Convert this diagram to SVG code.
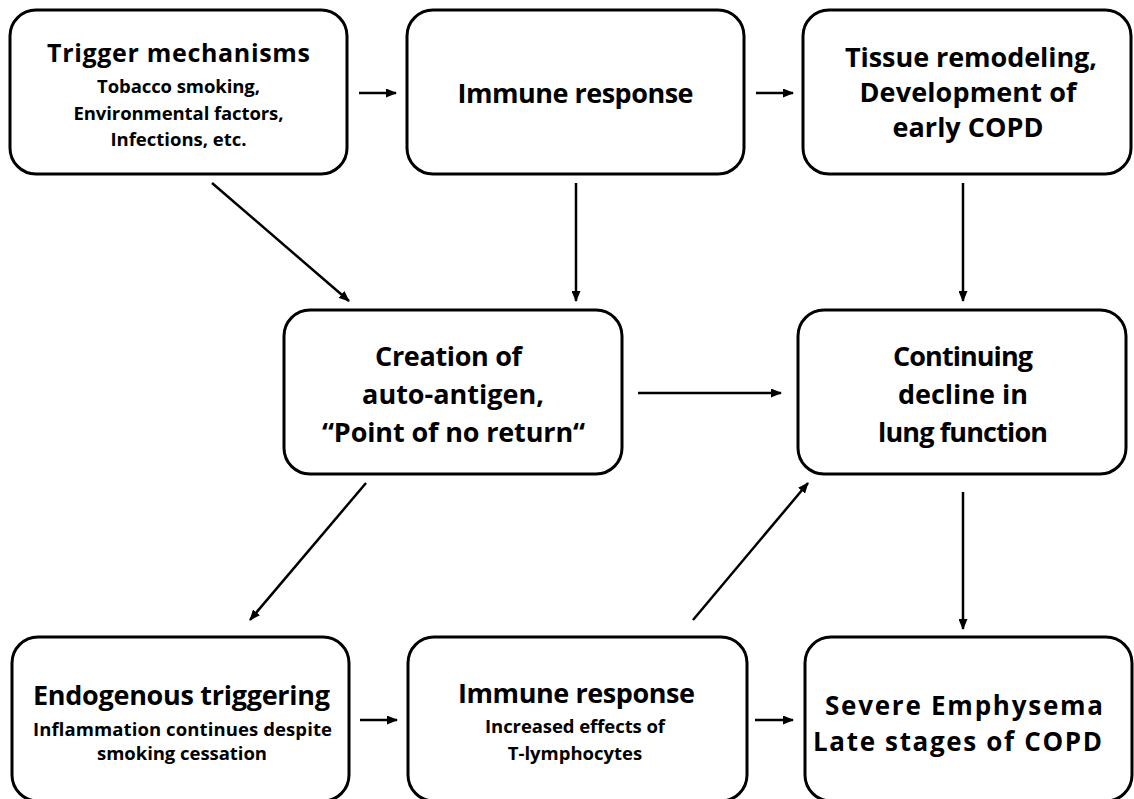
<svg xmlns="http://www.w3.org/2000/svg" width="1134" height="799" viewBox="0 0 1134 799">
<style>
.box{fill:#fff;stroke:#000;stroke-width:3}
.t{font-family:"Open Sans","Noto Sans","Liberation Sans",sans-serif;font-weight:bold;fill:#000;text-anchor:middle}
.h{font-size:27px}
.h2{font-size:25px}
.s{font-size:18.5px}
.c{stroke:#000;stroke-width:2.5;fill:none;marker-end:url(#ah)}
</style>
<defs>
<marker id="ah" markerUnits="userSpaceOnUse" markerWidth="11" markerHeight="9" refX="10" refY="4.5" orient="auto">
<path d="M0,0 L11,4.5 L0,9 z" fill="#000"/>
</marker>
</defs>
<rect width="1134" height="799" fill="#fff"/>
<g id="connectors">
<line class="c" x1="359" y1="93" x2="396" y2="93"/>
<line class="c" x1="756" y1="93" x2="793" y2="93"/>
<line class="c" x1="212" y1="183" x2="349" y2="301"/>
<line class="c" x1="576" y1="183" x2="576" y2="301"/>
<line class="c" x1="963" y1="183" x2="963" y2="301"/>
<line class="c" x1="638" y1="393" x2="781" y2="393"/>
<line class="c" x1="366" y1="483" x2="250" y2="620"/>
<line class="c" x1="693" y1="620" x2="808" y2="483"/>
<line class="c" x1="963" y1="492" x2="963" y2="629"/>
<line class="c" x1="360" y1="720" x2="397" y2="720"/>
<line class="c" x1="755" y1="720" x2="793" y2="720"/>
</g>
<g id="trigger">
<rect class="box" x="10" y="10" width="337" height="164" rx="26"/>
<text class="t h2" x="178.5" y="62" textLength="263">Trigger mechanisms</text>
<text class="t s" x="178.5" y="93" textLength="163">Tobacco smoking,</text>
<text class="t s" x="178.5" y="120" textLength="210">Environmental factors,</text>
<text class="t s" x="178.5" y="146">Infections, etc.</text>
</g>
<g id="immune1">
<rect class="box" x="407" y="10" width="337" height="164" rx="26"/>
<text class="t h" x="575.5" y="103" textLength="236">Immune response</text>
</g>
<g id="tissue">
<rect class="box" x="803" y="10" width="328" height="164" rx="26"/>
<text class="t h" x="971" y="67" textLength="252">Tissue remodeling,</text>
<text class="t h" x="968" y="102" textLength="217">Development of</text>
<text class="t h" x="968" y="137">early COPD</text>
</g>
<g id="creation">
<rect class="box" x="284" y="310" width="338" height="164" rx="26"/>
<text class="t h" x="448.5" y="366" textLength="147">Creation of</text>
<text class="t h" x="453" y="404">auto-antigen,</text>
<text class="t h" x="453.5" y="442" textLength="263">“Point of no return“</text>
</g>
<g id="decline">
<rect class="box" x="798" y="310" width="328" height="164" rx="26"/>
<text class="t h" x="963" y="366" textLength="140">Continuing</text>
<text class="t h" x="963" y="404">decline in</text>
<text class="t h" x="963" y="442" textLength="170">lung function</text>
</g>
<g id="endogenous">
<rect class="box" x="12" y="637" width="337" height="164" rx="26"/>
<text class="t h" x="181.5" y="705" textLength="297">Endogenous triggering</text>
<text class="t s" x="182.5" y="736" textLength="299">Inflammation continues despite</text>
<text class="t s" x="182" y="760" textLength="170">smoking cessation</text>
</g>
<g id="immune2">
<rect class="box" x="408" y="637" width="339" height="164" rx="26"/>
<text class="t h" x="576.5" y="703" textLength="237">Immune response</text>
<text class="t s" x="575" y="733" textLength="180">Increased effects of</text>
<text class="t s" x="575" y="760">T-lymphocytes</text>
</g>
<g id="emphysema">
<rect class="box" x="805" y="637" width="327" height="164" rx="26"/>
<text class="t" style="font-size:26px" x="964" y="715" textLength="278">Severe Emphysema</text>
<text class="t" style="font-size:26px" x="957.5" y="751" textLength="289">Late stages of COPD</text>
</g>
</svg>
